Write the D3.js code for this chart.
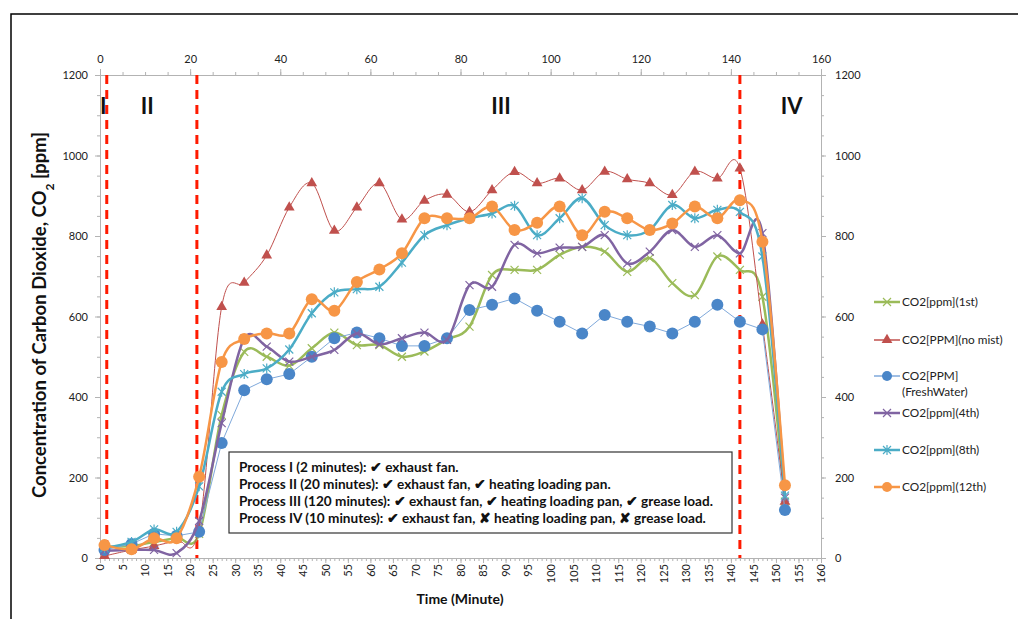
<!DOCTYPE html>
<html>
<head>
<meta charset="utf-8">
<script src="https://cdn.jsdelivr.net/npm/d3@7"></script>
<style>
  body { margin: 0; background: #fff; }
  text { font-family: Lato, "Open Sans", sans-serif; }
</style>
</head>
<body>
<svg id="chart" width="1018" height="619"></svg>
<script>
// time of each reading (minutes)
const times = [1, 7, 12, 17, 22, 27, 32, 37, 42, 47, 52, 57, 62, 67, 72, 77, 82, 87, 92, 97,
  102, 107, 112, 117, 122, 127, 132, 137, 142, 147, 152];

const co2_1st = [28, 30, 40, 50, 60, 355, 512, 500, 478, 521, 560, 529, 529, 500, 513, 543, 575, 703, 716, 716,
  753, 773, 761, 711, 745, 683, 653, 749, 716, 649, 140];
const co2_nomist = [5, 20, 30, 45, 75, 624, 684, 752, 871, 931, 813, 871, 931, 841, 888, 903, 860, 914, 959, 931,
  943, 914, 960, 941, 931, 902, 960, 943, 968, 580, 140];
const co2_fresh = [20, 35, 60, 55, 65, 286, 417, 444, 457, 500, 546, 560, 546, 527, 527, 546, 616, 629, 645, 614,
  587, 558, 604, 587, 575, 558, 587, 629, 587, 568, 119];
const co2_4th = [18, 20, 20, 12, 92, 335, 545, 525, 488, 500, 517, 558, 531, 546, 560, 542, 678, 674, 778, 757,
  771, 773, 802, 732, 761, 815, 773, 802, 757, 807, 150];
const co2_8th = [25, 40, 71, 65, 178, 413, 457, 471, 518, 608, 660, 668, 674, 734, 802, 827, 844, 856, 875, 802,
  844, 894, 827, 802, 815, 877, 844, 865, 860, 749, 155];
const co2_12th = [32, 22, 49, 49, 202, 487, 544, 558, 558, 643, 614, 686, 717, 757, 844, 844, 844, 873, 815, 833,
  873, 802, 860, 844, 815, 831, 873, 844, 889, 786, 181];

const seriesNames = ["CO2[ppm](1st)", "CO2[PPM](no mist)", "CO2[PPM]\n(FreshWater)", "CO2[ppm](4th)", "CO2[ppm](8th)", "CO2[ppm](12th)"];
const seriesValues = [co2_1st, co2_nomist, co2_fresh, co2_4th, co2_8th, co2_12th];

// process boundaries (minutes) and phase labels
const processLines = [1.5, 21.5, 142];
const phaseLabels = [["I", 0.7], ["II", 10.5], ["III", 89], ["IV", 153.5]];
const notes = [
  "Process I (2 minutes): \u2714 exhaust fan.",
  "Process II (20 minutes): \u2714 exhaust fan, \u2714 heating loading pan.",
  "Process III (120 minutes): \u2714 exhaust fan, \u2714 heating loading pan, \u2714 grease load.",
  "Process IV (10 minutes): \u2714 exhaust fan, \u2718 heating loading pan, \u2718 grease load."
];

const styles = [
  {color: "#9BBB59", width: 2.5, marker: "x", smooth: true},
  {color: "#C0504D", width: 1, marker: "tri", smooth: true},
  {color: "#4A86C8", width: 1, marker: "circle", smooth: false, line: "#7FA9DB"},
  {color: "#8064A2", width: 2.5, marker: "x", smooth: true},
  {color: "#4BACC6", width: 2.5, marker: "star", smooth: true},
  {color: "#F79646", width: 2.5, marker: "circle", smooth: true}
];

const svg = d3.select("#chart");
const pLeft = 100, pRight = 821, pTop = 75, pBottom = 558;

const x = d3.scaleLinear().domain([0, 160]).range([pLeft, pRight]);
const y = d3.scaleLinear().domain([0, 1200]).range([pBottom, pTop]);

// outer frame
svg.append("path")
  .attr("d", `M11,620 L11,14 L1020,14`)
  .attr("fill", "none").attr("stroke", "#000").attr("stroke-width", 1.5);

const axisColor = "#b3b3b3";
function styleAxis(g) {
  g.selectAll("path").attr("stroke", axisColor);
  g.selectAll("line").attr("stroke", axisColor);
  g.selectAll("text").attr("fill", "#222").style("font-size", "11px").style("font-family", "Lato, sans-serif");
}

// minor ticks
svg.append("g").attr("transform", `translate(0,${pBottom})`)
  .call(d3.axisBottom(x).tickValues(d3.range(0, 161, 1)).tickSize(3).tickFormat(""))
  .call(styleAxis);
svg.append("g").attr("transform", `translate(0,${pTop})`)
  .call(d3.axisTop(x).tickValues(d3.range(0, 161, 5)).tickSize(3).tickFormat(""))
  .call(styleAxis);
svg.append("g").attr("transform", `translate(${pLeft},0)`)
  .call(d3.axisLeft(y).tickValues(d3.range(0, 1201, 50)).tickSize(3).tickFormat(""))
  .call(styleAxis);
svg.append("g").attr("transform", `translate(${pRight},0)`)
  .call(d3.axisRight(y).tickValues(d3.range(0, 1201, 50)).tickSize(3).tickFormat(""))
  .call(styleAxis);

// major ticks
const xb = svg.append("g").attr("transform", `translate(0,${pBottom})`)
  .call(d3.axisBottom(x).tickValues(d3.range(0, 161, 5)).tickSize(5).tickPadding(4))
  .call(styleAxis);
xb.selectAll("text")
  .attr("transform", "rotate(-90)")
  .attr("text-anchor", "end")
  .attr("x", -6).attr("y", 0).attr("dy", "0.35em");

svg.append("g").attr("transform", `translate(0,${pTop})`)
  .call(d3.axisTop(x).tickValues(d3.range(0, 161, 20)).tickSize(6).tickPadding(6))
  .call(styleAxis);
svg.append("g").attr("transform", `translate(${pLeft},0)`)
  .call(d3.axisLeft(y).tickValues(d3.range(0, 1201, 200)).tickSize(5).tickPadding(7).tickFormat(d3.format("d")))
  .call(styleAxis);
svg.append("g").attr("transform", `translate(${pRight},0)`)
  .call(d3.axisRight(y).tickValues(d3.range(0, 1201, 200)).tickSize(5).tickPadding(9).tickFormat(d3.format("d")))
  .call(styleAxis);

// process boundaries
svg.selectAll(".proc").data(processLines).enter().append("line")
  .attr("x1", d => x(d)).attr("x2", d => x(d))
  .attr("y1", pTop).attr("y2", pBottom)
  .attr("stroke", "#FF1A00").attr("stroke-width", 3)
  .attr("stroke-dasharray", "9,6");

svg.selectAll(".phase").data(phaseLabels).enter().append("text")
  .attr("x", d => x(d[1])).attr("y", 114)
  .attr("text-anchor", "middle")
  .style("font-size", "22px").style("font-weight", "bold")
  .attr("fill", "#111")
  .text(d => d[0]);

// markers
function drawMarker(g, type, color, size) {
  if (type === "circle") {
    g.append("circle").attr("r", size).attr("fill", color);
  } else if (type === "tri") {
    g.append("path").attr("d", d3.symbol(d3.symbolTriangle, 50)()).attr("fill", color);
  } else if (type === "x") {
    g.append("path").attr("d", "M-4,-4L4,4M-4,4L4,-4").attr("stroke", color).attr("stroke-width", 1.2);
  } else if (type === "star") {
    g.append("path").attr("d", "M-4,-4L4,4M-4,4L4,-4M0,-5L0,5").attr("stroke", color).attr("stroke-width", 1.2);
  }
}

seriesValues.forEach((vals, i) => {
  const st = styles[i];
  const pts = vals.map((v, j) => [times[j], v]);
  const line = d3.line()
    .x(d => x(d[0])).y(d => y(d[1]))
    .curve(st.smooth ? d3.curveCatmullRom.alpha(0) : d3.curveLinear);
  const g = svg.append("g");
  g.append("path").datum(pts)
    .attr("d", line)
    .attr("fill", "none")
    .attr("stroke", st.line || st.color)
    .attr("stroke-width", st.width);
  pts.forEach(p => {
    const m = g.append("g").attr("transform", `translate(${x(p[0])},${y(p[1])})`);
    drawMarker(m, st.marker, st.color, 6);
  });
});

// legend
const legendY = [302, 340, 376, 413, 450, 487];
seriesNames.forEach((name, i) => {
  const st = styles[i];
  const g = svg.append("g").attr("transform", `translate(874,${legendY[i]})`);
  g.append("line").attr("x1", 0).attr("x2", 26).attr("y1", 0).attr("y2", 0)
    .attr("stroke", st.line || st.color).attr("stroke-width", st.width === 1 ? 1.5 : 2.5);
  const m = g.append("g").attr("transform", "translate(13,0)");
  drawMarker(m, st.marker, st.color, 5);
  const t = g.append("text").attr("x", 28).attr("y", 0)
    .style("font-size", "11.8px").attr("fill", "#222");
  name.split("\n").forEach((part, k) => {
    t.append("tspan").attr("x", 28).attr("dy", k === 0 ? "0.35em" : "1.35em").text(part);
  });
});

// notes box
const box = svg.append("g");
box.append("rect").attr("x", 229).attr("y", 452).attr("width", 503).attr("height", 81)
  .attr("fill", "#fff").attr("stroke", "#333").attr("stroke-width", 1.2);
box.selectAll("text").data(notes).enter().append("text")
  .attr("x", 239).attr("y", (d, i) => 472 + i * 17)
  .style("font-size", "13.6px").style("font-weight", "bold").attr("fill", "#111")
  .text(d => d);

// axis titles
svg.append("text").attr("x", 460).attr("y", 604).attr("text-anchor", "middle")
  .style("font-size", "14px").style("font-weight", "bold").attr("fill", "#111")
  .text("Time (Minute)");

const yt = svg.append("text")
  .attr("transform", "translate(46,315) rotate(-90)")
  .attr("text-anchor", "middle")
  .style("font-size", "18.5px").style("font-weight", "bold").attr("fill", "#111");
yt.append("tspan").text("Concentration of Carbon Dioxide, CO");
yt.append("tspan").attr("baseline-shift", "sub").style("font-size", "12px").text("2");
yt.append("tspan").text(" [ppm]");
</script>
</body>
</html>
